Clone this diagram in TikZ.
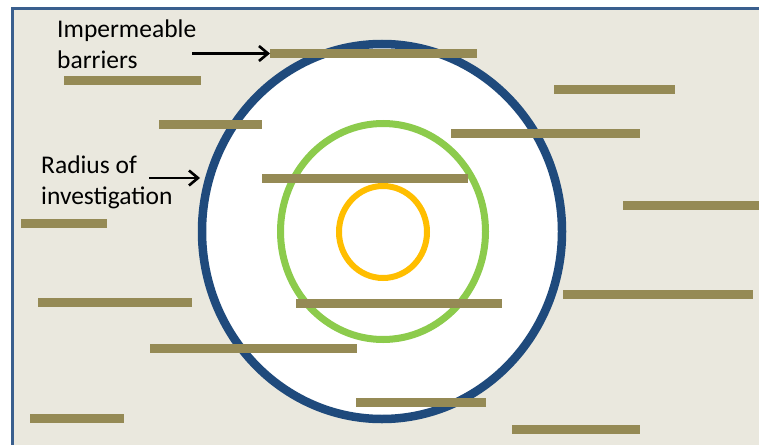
\documentclass[tikz,border=0pt]{standalone}
\usepackage{fontspec}
\setmainfont{Carlito}
\usetikzlibrary{arrows.meta,shapes.geometric}
\definecolor{bgc}{HTML}{EAE8DE}
\definecolor{framec}{HTML}{3A5F8E}
\definecolor{outerc}{HTML}{1F4A7C}
\definecolor{greenc}{HTML}{8CCB4C}
\definecolor{orangec}{HTML}{FFBE00}
\definecolor{barc}{HTML}{958A55}
\begin{document}
\begin{tikzpicture}[x=1pt,y=-1pt,
  barbox/.style={fill=barc, draw=none, inner sep=0pt, outer sep=0pt, minimum height=9pt, rectangle},
  ring/.style={ellipse, inner sep=0pt, fill=none},
  lbl/.style={font=\fontsize{25.5}{31}\selectfont, align=left, inner sep=0pt, anchor=north west, text=black},
  arr/.style={line width=2.6pt, -{Straight Barb[length=9pt,width=15pt,line width=2.6pt]}}]
\useasboundingbox (0,0) rectangle (759,444);
\fill[white] (0,0) rectangle (759,444);
\filldraw[fill=bgc, draw=framec, line width=3pt] (12.5,8.5) rectangle (775,460);
% rings
\node[ring, draw=outerc, fill=white, line width=8.5pt, minimum width=360pt, minimum height=375pt] (outer) at (382,231.5) {};
\node[ring, draw=greenc, line width=7pt, minimum width=205pt, minimum height=216pt] (green) at (383,231.5) {};
\node[ring, draw=orangec, line width=6pt, minimum width=88pt, minimum height=92pt] (orange) at (383,232) {};
% barriers
\node[barbox, minimum width=207pt] (b1) at (373.5,53.5) {};
\node[barbox, minimum width=137pt] (b2) at (132.5,80) {};
\node[barbox, minimum width=103pt] (b3) at (210.5,124.5) {};
\node[barbox, minimum width=121pt] (b4) at (614.5,89) {};
\node[barbox, minimum width=189pt] (b5) at (545.5,133.5) {};
\node[barbox, minimum width=206pt] (b6) at (365,178) {};
\node[barbox, minimum width=139pt] (b7) at (692.5,205.5) {};
\node[barbox, minimum width=86pt] (b8) at (64,223.5) {};
\node[barbox, minimum width=154pt] (b9) at (115,302) {};
\node[barbox, minimum width=190pt] (b10) at (658,294.5) {};
\node[barbox, minimum width=206pt] (b11) at (399,303) {};
\node[barbox, minimum width=207pt] (b12) at (253.5,348.5) {};
\node[barbox, minimum width=130pt] (b13) at (421,402) {};
\node[barbox, minimum width=128pt] (b14) at (576,429.5) {};
\node[barbox, minimum width=94pt] (b15) at (77,418.5) {};
% labels
\node[lbl] (imp) at (57,19.5) {Impermeable\\barriers};
\node[lbl] (rad) at (41,156) {Radius of\\investigation};
% arrows
\coordinate (a1s) at (192,53.5);
\draw[arr] (a1s) -- (b1.west);
\coordinate (a2s) at (149,178);
\coordinate (a2e) at (200,178);
\draw[arr] (a2s) -- (a2e);
\end{tikzpicture}
\end{document}
